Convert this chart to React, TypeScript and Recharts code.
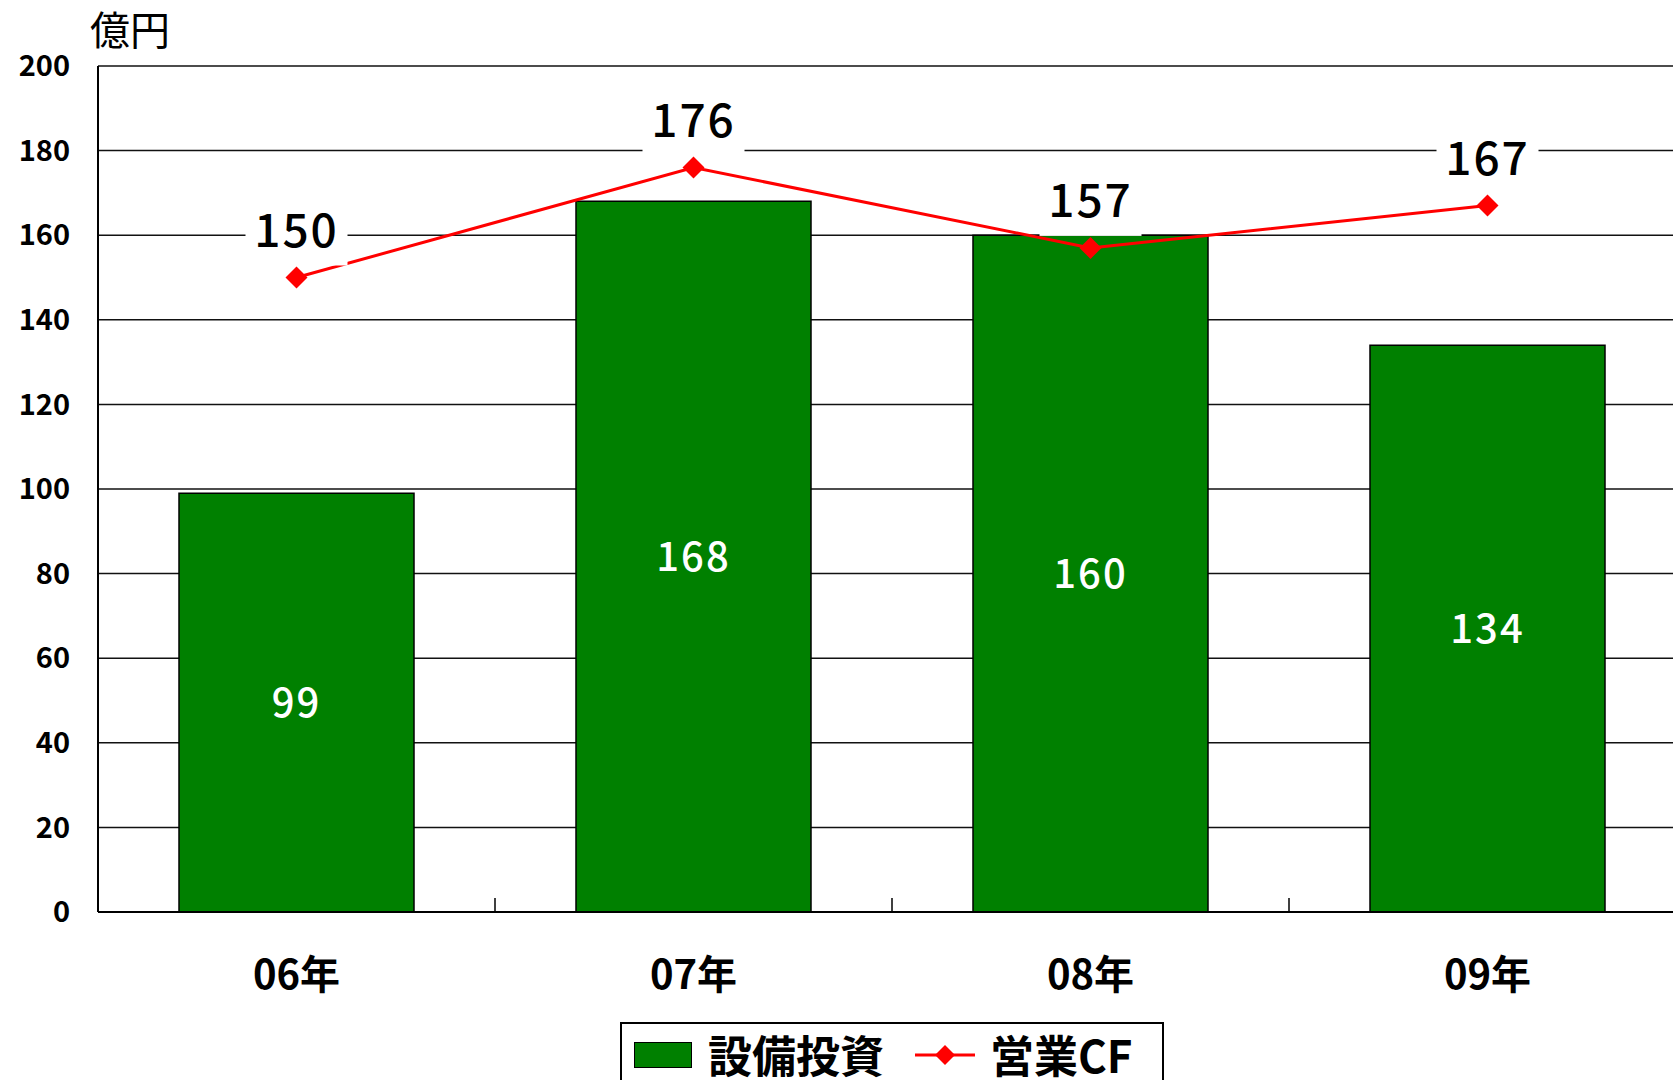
import React from 'react'
import {
  Bar,
  CartesianGrid,
  ComposedChart,
  LabelList,
  Line,
  XAxis,
  YAxis,
} from 'recharts'

// values (億円)
const years = ['06年', '07年', '08年', '09年']
const capex = [99, 168, 160, 134]
const operatingCf = [150, 176, 157, 167]
const yTicks = [0, 20, 40, 60, 80, 100, 120, 140, 160, 180, 200]

const seriesNames = { capex: '設備投資', cf: '営業CF' }
const unitLabel = '億円'

const data = years.map((year, i) => ({
  year,
  capex: capex[i],
  cf: operatingCf[i],
}))

const FONT = '"Noto Sans CJK JP", "Noto Sans", sans-serif'
const GREEN = '#008000'
const RED = '#ff0000'

function Diamond({ cx, cy, size = 11 }: { cx?: number; cy?: number; size?: number }) {
  if (cx == null || cy == null) return null
  const s = size
  return (
    <path
      d={`M${cx},${cy - s} L${cx + s},${cy} L${cx},${cy + s} L${cx - s},${cy} Z`}
      fill={RED}
    />
  )
}

function CfLabel(props: { x?: number; y?: number; value?: number }) {
  const { x, y, value } = props
  if (x == null || y == null) return null
  return (
    <g>
      <rect x={x - 51} y={y - 78} width={102} height={66} fill="#fff" />
      <text
        x={x}
        y={y - 51}
        textAnchor="middle"
        dominantBaseline="central"
        fontSize={46}
        fontWeight={500}
        letterSpacing={2}
        fill="#000"
        fontFamily={FONT}
      >
        {value}
      </text>
    </g>
  )
}

// year label plus the small inner tick at the right edge of each category
function YearTick(props: any) {
  const { x, y, payload, index, visibleTicksCount } = props
  const half = payload?.offset
  return (
    <g>
      {half && index < visibleTicksCount - 1 ? (
        <line x1={x + half} x2={x + half} y1={y} y2={y - 14} stroke="#000" strokeWidth={1.5} />
      ) : null}
      <text
        x={x}
        y={y + 60}
        textAnchor="middle"
        dominantBaseline="central"
        fontSize={40}
        fontWeight={700}
        fill="#000"
        fontFamily={FONT}
      >
        {payload.value}
      </text>
    </g>
  )
}

// legend box runs off the bottom edge in the reference, so no bottom border
function LegendBox() {
  const textStyle: React.CSSProperties = {
    position: 'absolute',
    top: 8,
    fontSize: 44,
    fontWeight: 700,
    lineHeight: '44px',
    whiteSpace: 'nowrap',
  }
  return (
    <div
      style={{
        position: 'absolute',
        left: 620,
        top: 1022,
        width: 544,
        height: 58,
        border: '2px solid #000',
        borderBottom: 'none',
        background: '#fff',
        boxSizing: 'border-box',
      }}
    >
      <div
        style={{
          position: 'absolute',
          left: 12,
          top: 18,
          width: 58,
          height: 26,
          background: GREEN,
          border: '1.5px solid #000',
          boxSizing: 'border-box',
        }}
      />
      <span style={{ ...textStyle, left: 86 }}>{seriesNames.capex}</span>
      <svg style={{ position: 'absolute', left: 292, top: 18 }} width={62} height={26}>
        <line x1={1} y1={13} x2={61} y2={13} stroke={RED} strokeWidth={3} />
        <Diamond cx={31} cy={13} size={10} />
      </svg>
      <span style={{ ...textStyle, left: 368 }}>{seriesNames.cf}</span>
    </div>
  )
}

export default function App() {
  return (
    <div
      style={{
        position: 'absolute',
        left: 0,
        top: 0,
        width: 1673,
        height: 1080,
        overflow: 'hidden',
        background: '#fff',
        fontFamily: FONT,
        color: '#000',
      }}
    >
      <div
        style={{
          position: 'absolute',
          left: 90,
          top: 6,
          fontSize: 40,
          lineHeight: '44px',
        }}
      >
        {unitLabel}
      </div>
      <ComposedChart
        width={1700}
        height={1080}
        data={data}
        margin={{ top: 66, right: 14, bottom: 88, left: 0 }}
      >
        <CartesianGrid vertical={false} stroke="#111" strokeWidth={1.5} />
        <XAxis
          dataKey="year"
          height={80}
          tickLine={false}
          tickSize={0}
          tickMargin={0}
          axisLine={{ stroke: '#000', strokeWidth: 2 }}
          tick={<YearTick />}
        />
        <YAxis
          width={98}
          domain={[0, 200]}
          ticks={yTicks}
          interval={0}
          tickLine={false}
          tickSize={0}
          tickMargin={28}
          axisLine={{ stroke: '#000', strokeWidth: 2 }}
          tick={{ fontSize: 29, fontWeight: 700, fill: '#000', fontFamily: FONT }}
        />
        <Bar
          dataKey="capex"
          name={seriesNames.capex}
          fill={GREEN}
          stroke="#000"
          strokeWidth={1.5}
          barSize={235}
          isAnimationActive={false}
        >
          <LabelList
            dataKey="capex"
            position="center"
            fill="#fff"
            fontSize={40}
            fontWeight={500}
            letterSpacing={2}
            fontFamily={FONT}
          />
        </Bar>
        <Line
          dataKey="cf"
          name={seriesNames.cf}
          type="linear"
          stroke={RED}
          strokeWidth={3}
          dot={<Diamond />}
          activeDot={false}
          isAnimationActive={false}
        >
          <LabelList dataKey="cf" content={<CfLabel />} />
        </Line>
      </ComposedChart>
      <LegendBox />
    </div>
  )
}
